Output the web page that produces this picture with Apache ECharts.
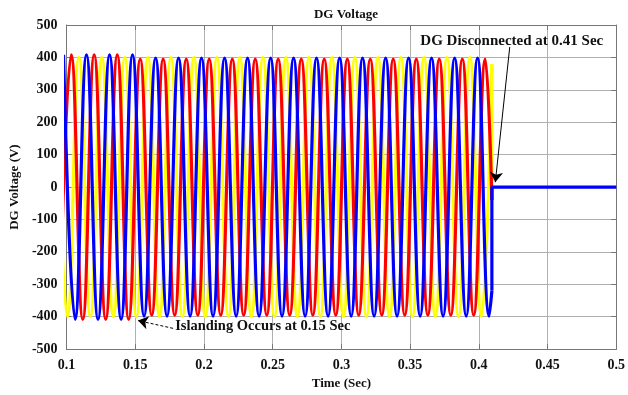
<!DOCTYPE html>
<html>
<head>
<meta charset="utf-8">
<script src="https://cdn.jsdelivr.net/npm/echarts@6/dist/echarts.min.js"></script>
<style>html,body{margin:0;padding:0;background:#fff}#c{width:628px;height:395px}</style>
</head>
<body>
<div id="c"></div>
<script>
// Extremum times (s) and voltages (V), per phase
const yellowT = [0.0922,0.1006,0.1090,0.1173,0.1257,0.1341,0.1424,0.1508,0.1592,0.1676,0.1759,0.1843,0.1927,0.2010,0.2094,0.2178,0.2261,0.2345,0.2429,0.2513,0.2596,0.2680,0.2764,0.2847,0.2931,0.3015,0.3098,0.3182,0.3266,0.3350,0.3433,0.3517,0.3601,0.3684,0.3768,0.3852,0.3935,0.4019];
const yellowV = [400,-400,400,-400,400,-400,400,-400,400,-400,400,-400,400,-400,400,-400,400,-400,400,-400,400,-400,400,-400,400,-400,400,-400,400,-400,400,-400,400,-400,400,-400,400,-400];
const redT = [0.0950,0.1034,0.1118,0.1201,0.1285,0.1369,0.1452,0.1536,0.1620,0.1703,0.1787,0.1871,0.1955,0.2038,0.2122,0.2206,0.2289,0.2373,0.2457,0.2540,0.2624,0.2708,0.2792,0.2875,0.2959,0.3043,0.3126,0.3210,0.3294,0.3377,0.3461,0.3545,0.3629,0.3712,0.3796,0.3880,0.3963,0.4047];
const redV = [-408,408,-408,408,-408,408,-408,395,-395,395,-395,395,-395,395,-395,395,-395,395,-395,395,-395,395,-395,395,-395,395,-395,395,-395,395,-395,395,-395,395,-395,395,-395,395];
const blueT = [0.0978,0.1062,0.1145,0.1229,0.1313,0.1397,0.1480,0.1564,0.1648,0.1731,0.1815,0.1899,0.1982,0.2066,0.2150,0.2234,0.2317,0.2401,0.2485,0.2568,0.2652,0.2736,0.2819,0.2903,0.2987,0.3071,0.3154,0.3238,0.3322,0.3405,0.3489,0.3573,0.3656,0.3740,0.3824,0.3908,0.3991,0.4075];
const blueV = [408,-408,408,-408,408,-408,408,-398,398,-398,398,-398,398,-398,398,-398,398,-398,398,-398,398,-398,398,-398,398,-398,398,-398,398,-398,398,-398,398,-398,398,-398,398,-398];
// disconnection instant and phase values at that instant
const cutT = 0.4095;
const cutYellow = 380, cutRed = -40, cutBlue = -320;
const endT = 0.5;
// axis ticks
const xMin = 0.1, xMax = 0.5, xStep = 0.05;
const yMin = -500, yMax = 500, yStep = 100;

const zip = (t, v) => t.map((x, i) => [x, v[i]]);
const FONT = 'Liberation Serif';
const txt = {fontFamily: FONT, fontWeight: 'bold', fontSize: 13, color: '#111'};
const LW = 3.2;
const wave = (name, color, data) => ({
  name, type: 'line', data, smooth: 0.45, showSymbol: false, symbol: 'none',
  lineStyle: {color, width: LW}, itemStyle: {color}, clip: true, silent: true
});
const seg = (name, color, data) => ({
  name, type: 'line', data, smooth: false, showSymbol: false, symbol: 'none',
  lineStyle: {color, width: LW}, itemStyle: {color}, clip: true, silent: true
});

const chart = echarts.init(document.getElementById('c'), null, {renderer: 'canvas'});
chart.setOption({
  animation: false,
  backgroundColor: '#fff',
  title: {text: 'DG Voltage', left: 341, top: 3, textAlign: 'center',
    textStyle: {fontFamily: FONT, fontWeight: 'bold', fontSize: 13, color: '#111'}},
  grid: {left: 65, right: 11, top: 25, bottom: 43, containLabel: false},
  xAxis: [{
    type: 'value', min: xMin, max: xMax, interval: xStep,
    name: 'Time (Sec)', nameLocation: 'middle', nameGap: 26, nameTextStyle: txt,
    axisLine: {show: true, onZero: false, lineStyle: {color: '#777', width: 1}},
    axisTick: {show: true, inside: true, length: 5, lineStyle: {color: '#777'}},
    axisLabel: Object.assign({margin: 9, formatter: v => String(+v.toFixed(2))}, txt, {fontSize: 14}),
    splitLine: {show: true, lineStyle: {color: '#b0b0b0', width: 1}}
  }, {
    type: 'value', position: 'top', min: xMin, max: xMax, interval: xStep,
    axisLine: {show: true, onZero: false, lineStyle: {color: '#777', width: 1}},
    axisTick: {show: true, inside: true, length: 5, lineStyle: {color: '#777'}},
    axisLabel: {show: false}, splitLine: {show: false}
  }],
  yAxis: [{
    type: 'value', min: yMin, max: yMax, interval: yStep,
    name: 'DG Voltage (V)', nameLocation: 'middle', nameGap: 42, nameTextStyle: txt,
    axisLine: {show: true, onZero: false, lineStyle: {color: '#777', width: 1}},
    axisTick: {show: true, inside: true, length: 5, lineStyle: {color: '#777'}},
    axisLabel: Object.assign({margin: 9}, txt, {fontSize: 14}),
    splitLine: {show: true, lineStyle: {color: '#b0b0b0', width: 1}}
  }, {
    type: 'value', position: 'right', min: yMin, max: yMax, interval: yStep,
    axisLine: {show: true, onZero: false, lineStyle: {color: '#777', width: 1}},
    axisTick: {show: true, inside: true, length: 5, lineStyle: {color: '#777'}},
    axisLabel: {show: false}, splitLine: {show: false}
  }],
  series: [
    wave('Phase A', '#ffff00', zip(yellowT, yellowV).concat([[cutT, cutYellow]])),
    seg('Phase A cut', '#ffff00', [[cutT, cutYellow], [cutT, 0]]),
    wave('Phase B', '#ff0000', zip(redT, redV).concat([[cutT, cutRed]])),
    seg('Phase B cut', '#ff0000', [[cutT, cutRed], [cutT, 0]]),
    wave('Phase C', '#0000ff', zip(blueT, blueV).concat([[cutT, cutBlue]])),
    Object.assign(seg('Phase C cut', '#0000ff', [[cutT, cutBlue], [cutT, 0], [endT, 0]]), {
      markLine: {
        silent: true, animation: false, symbol: ['none', 'arrow'], symbolSize: 10,
        label: {show: false}, emphasis: {disabled: true},
        data: [
          [{coord: [0.4225, 432], lineStyle: {color: '#000', width: 1, type: 'solid'}}, {coord: [0.4120, 15]}],
          [{coord: [0.1775, -436], lineStyle: {color: '#000', width: 1, type: [3, 2]}}, {coord: [0.1520, -412]}]
        ]
      },
      markPoint: {
        silent: true, animation: false,
        data: [
          {coord: [0.4240, 451], symbol: 'circle', symbolSize: 0,
            label: Object.assign({show: true, position: 'inside', formatter: 'DG Disconnected at 0.41 Sec'}, txt, {fontSize: 15})},
          {coord: [0.1790, -428], symbol: 'circle', symbolSize: 0,
            label: Object.assign({show: true, position: 'right', distance: 0, formatter: 'Islanding Occurs at 0.15 Sec'}, txt, {fontSize: 14.5})}
        ]
      }
    })
  ]
});
</script>
</body>
</html>
